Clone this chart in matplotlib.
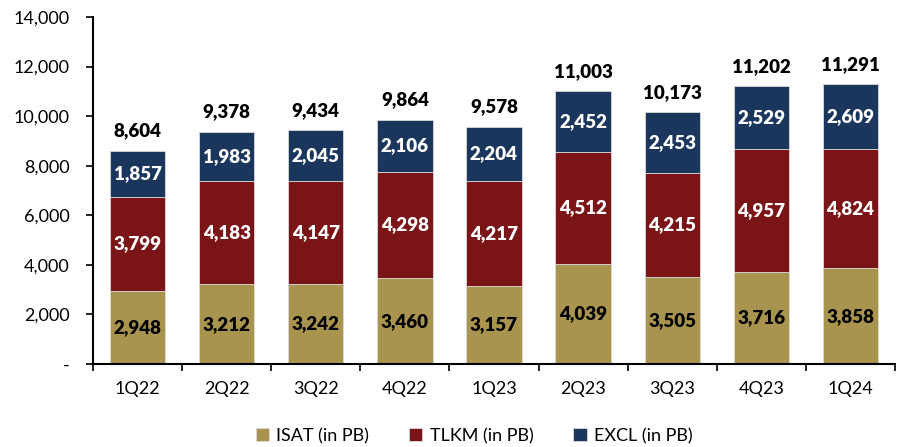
import matplotlib

matplotlib.use("Agg")

import matplotlib.pyplot as plt
import numpy as np
from matplotlib.ticker import FuncFormatter

quarters = ["1Q22", "2Q22", "3Q22", "4Q22", "1Q23", "2Q23", "3Q23", "4Q23", "1Q24"]
isat = [2948, 3212, 3242, 3460, 3157, 4039, 3505, 3716, 3858]
tlkm = [3799, 4183, 4147, 4298, 4217, 4512, 4215, 4957, 4824]
excl = [1857, 1983, 2045, 2106, 2204, 2452, 2453, 2529, 2609]
totals = [8604, 9378, 9434, 9864, 9578, 11003, 10173, 11202, 11291]

colors = {"ISAT": "#A9944F", "TLKM": "#7B1416", "EXCL": "#1B365D"}

plt.rcParams["font.family"] = ["Lato", "DejaVu Sans"]

fig = plt.figure(figsize=(9.03, 4.47), dpi=100)
ax = fig.add_axes([93 / 903, 1 - 364 / 447, 802 / 903, 347 / 447])

x = np.arange(len(quarters))
w = 0.62
bottom = np.zeros(len(quarters))
series = [("ISAT", isat, "black"), ("TLKM", tlkm, "white"), ("EXCL", excl, "white")]
for name, vals, tcol in series:
    vals = np.array(vals)
    ax.bar(x, vals, w, bottom=bottom, color=colors[name],
           edgecolor="#d9d9d9", linewidth=0.6, label=f"{name} (in PB)")
    for xi, b, v in zip(x, bottom, vals):
        ax.text(xi, b + v / 2, f"{v:,}", ha="center", va="center",
                fontsize=13.5, fontweight="heavy", color=tcol)
    bottom = bottom + vals

for xi, top, t in zip(x, bottom, totals):
    ax.text(xi, top + 450, f"{t:,}", ha="center", va="bottom",
            fontsize=13.5, fontweight="heavy", color="black")

ax.set_xlim(-0.5, len(quarters) - 0.5)
ax.set_ylim(0, 14000)
ax.set_yticks(range(0, 14001, 2000))
ax.yaxis.set_major_formatter(FuncFormatter(lambda v, p: "-" if v == 0 else f"{int(v):,}"))
ax.set_xticks(x)
ax.set_xticklabels(quarters)
ax.set_xticks(np.arange(-0.5, len(quarters), 1), minor=True)
ax.tick_params(axis="x", which="major", length=0, pad=12, labelsize=13)
ax.tick_params(axis="x", which="minor", length=5, width=1.2, direction="out")
ax.tick_params(axis="y", length=5, width=1.2, direction="out", labelsize=13, pad=12)

for s in ["top", "right"]:
    ax.spines[s].set_visible(False)
for s in ["left", "bottom"]:
    ax.spines[s].set_linewidth(1.5)

fig.legend(loc="lower center", bbox_to_anchor=(0.525, -0.03), ncol=3, frameon=False,
           fontsize=13, handlelength=0.75, handleheight=0.75, handletextpad=0.4,
           columnspacing=2.2)

fig.savefig("out.png", dpi=100)
